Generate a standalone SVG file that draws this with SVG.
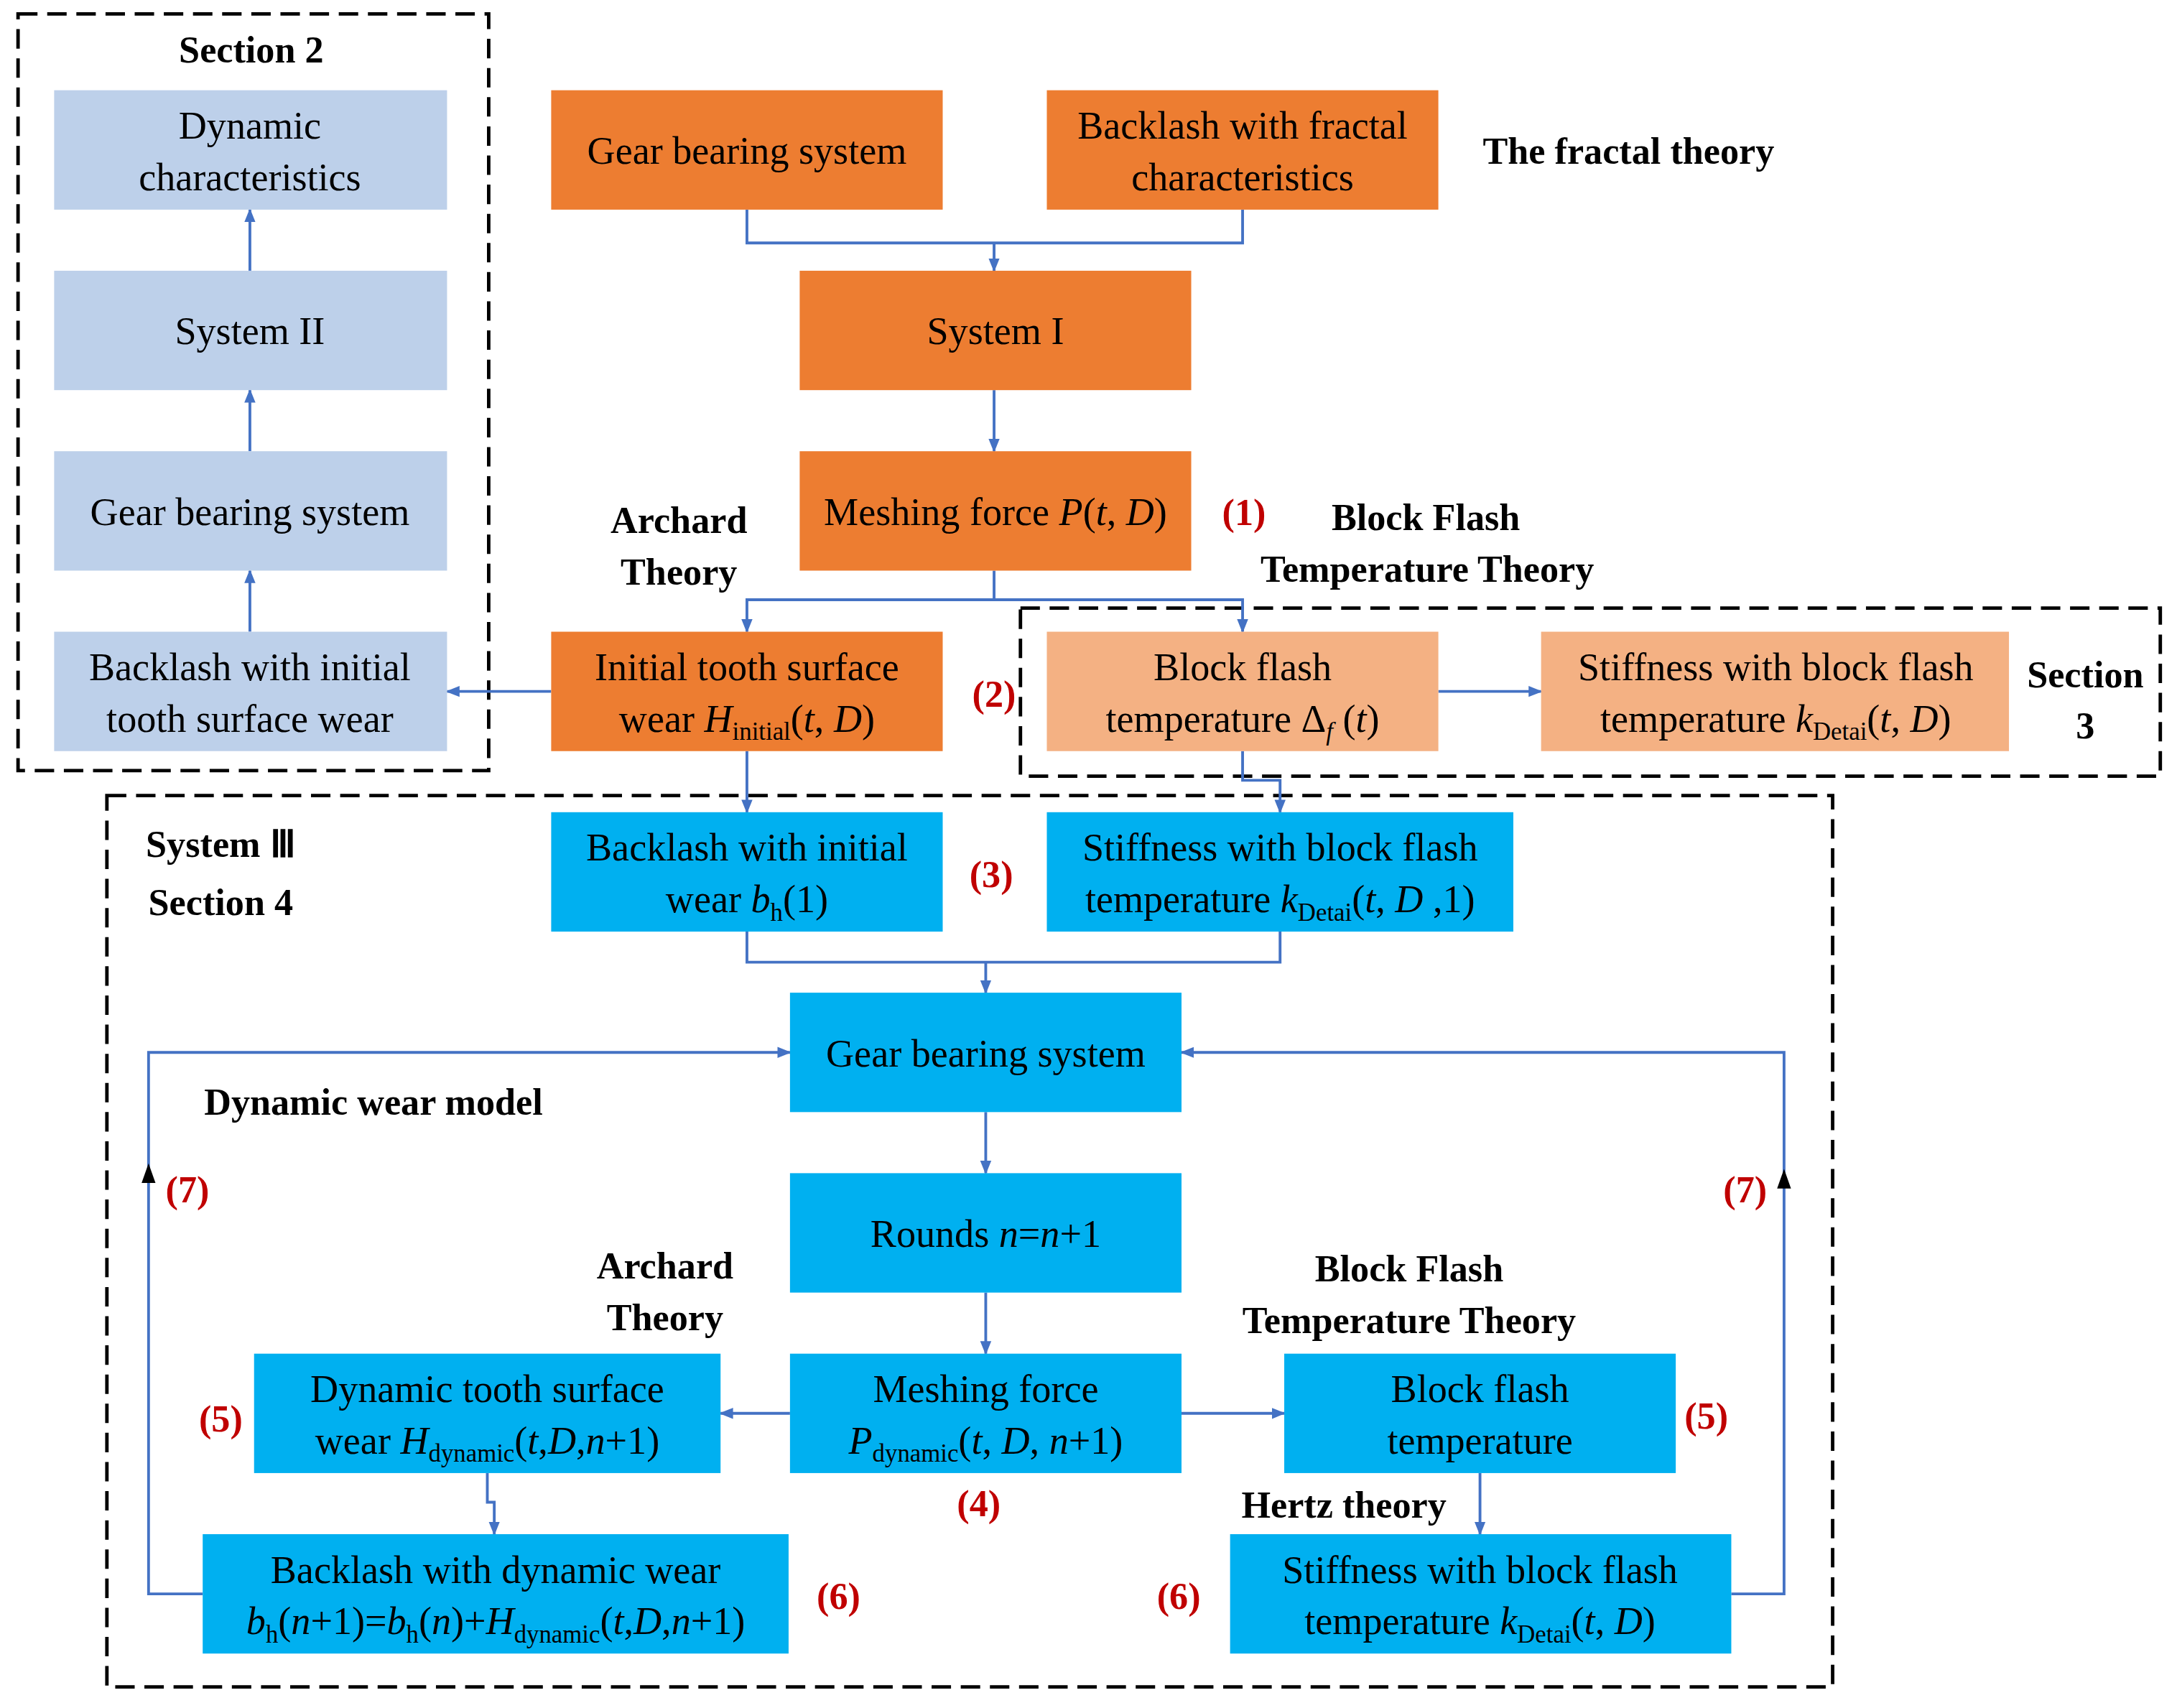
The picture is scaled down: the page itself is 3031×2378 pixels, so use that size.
<svg xmlns="http://www.w3.org/2000/svg" width="3031" height="2378" viewBox="0 0 3031 2378">
<style>
text{font-family:"Liberation Serif","Times New Roman",serif;font-size:28px;fill:#000;text-anchor:middle}
.b{font-weight:bold;font-size:27px}
.r{font-weight:bold;font-size:27px;fill:#c00000}
.i{font-style:italic}
.s{font-size:18px}
.dash{fill:none;stroke:#000;stroke-width:2.5;stroke-dasharray:14,7}
.lb{fill:#bdd0ea}.or{fill:#ed7d31}.lo{fill:#f4b183}.cy{fill:#00b0f0}
.c{fill:none;stroke:#4472c4;stroke-width:2}
</style>
<defs>
<marker id="a" markerWidth="10" markerHeight="10" refX="9" refY="5" orient="auto" markerUnits="userSpaceOnUse"><path d="M0,1 L10,5 L0,9 Z" fill="#4472c4"/></marker>
</defs>
<rect width="3031" height="2378" fill="#fff"/>
<g transform="scale(1.933)">
<rect class="dash" x="13" y="10" width="339" height="545"/>
<rect class="dash" x="735" y="438" width="821" height="121"/>
<rect class="dash" x="77" y="573" width="1243" height="642"/>
<g id="connectors">
<path class="c" d="M538,151V175H716M895,151V175H716V195" marker-end="url(#a)"/>
<path class="c" d="M716,281V325" marker-end="url(#a)"/>
<path class="c" d="M716,411V432H538V455" marker-end="url(#a)"/>
<path class="c" d="M716,432H895V455" marker-end="url(#a)"/>
<path class="c" d="M397,498H322" marker-end="url(#a)"/>
<path class="c" d="M180,455V411" marker-end="url(#a)"/>
<path class="c" d="M180,325V281" marker-end="url(#a)"/>
<path class="c" d="M180,195V151" marker-end="url(#a)"/>
<path class="c" d="M1036,498H1110" marker-end="url(#a)"/>
<path class="c" d="M538,541V585" marker-end="url(#a)"/>
<path class="c" d="M895,541V562H922V585" marker-end="url(#a)"/>
<path class="c" d="M538,671V693H710M922,671V693H710V715" marker-end="url(#a)"/>
<path class="c" d="M710,801V845" marker-end="url(#a)"/>
<path class="c" d="M710,931V975" marker-end="url(#a)"/>
<path class="c" d="M569,1018H519" marker-end="url(#a)"/>
<path class="c" d="M851,1018H925" marker-end="url(#a)"/>
<path class="c" d="M351,1061V1082H356V1105" marker-end="url(#a)"/>
<path class="c" d="M1066,1061V1105" marker-end="url(#a)"/>
<path class="c" d="M146,1148H107V758H569" marker-end="url(#a)"/>
<path class="c" d="M1247,1148H1285V758H851" marker-end="url(#a)"/>
<path d="M107,838 L102,852 L112,852 Z" fill="#000"/>
<path d="M1285,842 L1280,856 L1290,856 Z" fill="#000"/>
</g>
<g id="n1"><rect class="lb" x="39" y="65" width="283" height="86"/><text x="180" y="100">Dynamic</text><text x="180" y="137">characteristics</text></g>
<g id="n2"><rect class="lb" x="39" y="195" width="283" height="86"/><text x="180" y="248">System II</text></g>
<g id="n3"><rect class="lb" x="39" y="325" width="283" height="86"/><text x="180" y="378">Gear bearing system</text></g>
<g id="n4"><rect class="lb" x="39" y="455" width="283" height="86"/><text x="180" y="490">Backlash with initial</text><text x="180" y="527">tooth surface wear</text></g>
<g id="n5"><rect class="or" x="397" y="65" width="282" height="86"/><text x="538" y="118">Gear bearing system</text></g>
<g id="n6"><rect class="or" x="754" y="65" width="282" height="86"/><text x="895" y="100">Backlash with fractal</text><text x="895" y="137">characteristics</text></g>
<g id="n7"><rect class="or" x="576" y="195" width="282" height="86"/><text x="717" y="248">System I</text></g>
<g id="n8"><rect class="or" x="576" y="325" width="282" height="86"/><text x="717" y="378">Meshing force <tspan class="i">P</tspan>(<tspan class="i">t</tspan>, <tspan class="i">D</tspan>)</text></g>
<g id="n9"><rect class="or" x="397" y="455" width="282" height="86"/><text x="538" y="490">Initial tooth surface</text><text x="538" y="527">wear <tspan class="i">H</tspan><tspan class="s" dy="6">initial</tspan><tspan dy="-6">(</tspan><tspan class="i">t</tspan>, <tspan class="i">D</tspan>)</text></g>
<g id="n10"><rect class="lo" x="754" y="455" width="282" height="86"/><text x="895" y="490">Block flash</text><text x="895" y="527">temperature Δ<tspan class="s i" dy="6">f</tspan><tspan dy="-6"> (</tspan><tspan class="i">t</tspan>)</text></g>
<g id="n11"><rect class="lo" x="1110" y="455" width="337" height="86"/><text x="1279" y="490">Stiffness with block flash</text><text x="1279" y="527">temperature <tspan class="i">k</tspan><tspan class="s" dy="6">Detai</tspan><tspan dy="-6">(</tspan><tspan class="i">t</tspan>, <tspan class="i">D</tspan>)</text></g>
<g id="n12"><rect class="cy" x="397" y="585" width="282" height="86"/><text x="538" y="620">Backlash with initial</text><text x="538" y="657">wear <tspan class="i">b</tspan><tspan class="s" dy="6">h</tspan><tspan dy="-6">(1)</tspan></text></g>
<g id="n13"><rect class="cy" x="754" y="585" width="336" height="86"/><text x="922" y="620">Stiffness with block flash</text><text x="922" y="657">temperature <tspan class="i">k</tspan><tspan class="s" dy="6">Detai</tspan><tspan dy="-6">(</tspan><tspan class="i">t</tspan>, <tspan class="i">D</tspan> ,1)</text></g>
<g id="n14"><rect class="cy" x="569" y="715" width="282" height="86"/><text x="710" y="768">Gear bearing system</text></g>
<g id="n15"><rect class="cy" x="569" y="845" width="282" height="86"/><text x="710" y="898">Rounds <tspan class="i">n</tspan>=<tspan class="i">n</tspan>+1</text></g>
<g id="n16"><rect class="cy" x="569" y="975" width="282" height="86"/><text x="710" y="1010">Meshing force</text><text x="710" y="1047"><tspan class="i">P</tspan><tspan class="s" dy="6">dynamic</tspan><tspan dy="-6">(</tspan><tspan class="i">t</tspan>, <tspan class="i">D</tspan>, <tspan class="i">n</tspan>+1)</text></g>
<g id="n17"><rect class="cy" x="183" y="975" width="336" height="86"/><text x="351" y="1010">Dynamic tooth surface</text><text x="351" y="1047">wear <tspan class="i">H</tspan><tspan class="s" dy="6">dynamic</tspan><tspan dy="-6">(</tspan><tspan class="i">t</tspan>,<tspan class="i">D</tspan>,<tspan class="i">n</tspan>+1)</text></g>
<g id="n18"><rect class="cy" x="925" y="975" width="282" height="86"/><text x="1066" y="1010">Block flash</text><text x="1066" y="1047">temperature</text></g>
<g id="n19"><rect class="cy" x="146" y="1105" width="422" height="86"/><text x="357" y="1140">Backlash with dynamic wear</text><text x="357" y="1177"><tspan class="i">b</tspan><tspan class="s" dy="6">h</tspan><tspan dy="-6">(</tspan><tspan class="i">n</tspan>+1)=<tspan class="i">b</tspan><tspan class="s" dy="6">h</tspan><tspan dy="-6">(</tspan><tspan class="i">n</tspan>)+<tspan class="i">H</tspan><tspan class="s" dy="6">dynamic</tspan><tspan dy="-6">(</tspan><tspan class="i">t</tspan>,<tspan class="i">D</tspan>,<tspan class="i">n</tspan>+1)</text></g>
<g id="n20"><rect class="cy" x="886" y="1105" width="361" height="86"/><text x="1066" y="1140">Stiffness with block flash</text><text x="1066" y="1177">temperature <tspan class="i">k</tspan><tspan class="s" dy="6">Detai</tspan><tspan dy="-6">(</tspan><tspan class="i">t</tspan>, <tspan class="i">D</tspan>)</text></g>
<g id="labels">
<text class="b" x="181" y="45">Section 2</text>
<text class="b" x="1173" y="118">The fractal theory</text>
<text class="b" x="489" y="384">Archard</text>
<text class="b" x="489" y="421">Theory</text>
<text class="r" x="896" y="378">(1)</text>
<text class="b" x="1027" y="382">Block  Flash</text>
<text class="b" x="1028" y="419">Temperature Theory</text>
<text class="r" x="716" y="509">(2)</text>
<text class="b" x="1502" y="495">Section</text>
<text class="b" x="1502" y="532">3</text>
<text class="b" x="159" y="617">System Ⅲ</text>
<text class="b" x="159" y="659">Section 4</text>
<text class="r" x="714" y="639">(3)</text>
<text class="b" x="269" y="803">Dynamic wear model</text>
<text class="r" x="135" y="866">(7)</text>
<text class="r" x="1257" y="866">(7)</text>
<text class="b" x="479" y="921">Archard</text>
<text class="b" x="479" y="958">Theory</text>
<text class="b" x="1015" y="923">Block  Flash</text>
<text class="b" x="1015" y="960">Temperature Theory</text>
<text class="r" x="159" y="1031">(5)</text>
<text class="r" x="1229" y="1029">(5)</text>
<text class="r" x="705" y="1092">(4)</text>
<text class="b" x="968" y="1093">Hertz theory</text>
<text class="r" x="604" y="1159">(6)</text>
<text class="r" x="849" y="1159">(6)</text>
</g>
</g>
</svg>
